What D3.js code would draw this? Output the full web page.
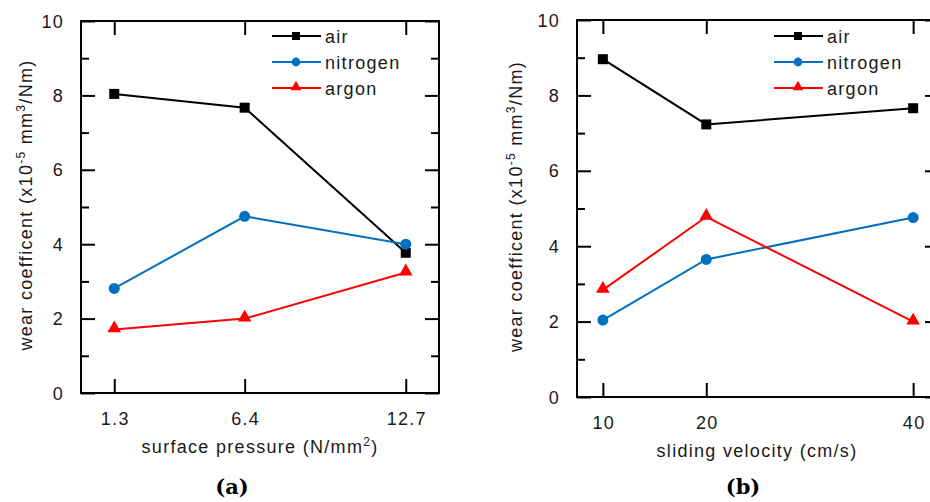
<!DOCTYPE html>
<html>
<head>
<meta charset="utf-8">
<script src="https://cdn.jsdelivr.net/npm/d3@7"></script>
<style>
  body { margin: 0; background: #fff; }
  text { font-family: "Liberation Sans", Arial, sans-serif; fill: #1a1a1a; }
  .wide { letter-spacing: 1.3px; }
  .panelTitle { font-family: "DejaVu Serif", "Liberation Serif", serif; font-weight: bold; fill: #000; }
</style>
</head>
<body>
<div id="graph"></div>
<script>
// data
var seriesNames  = ['air', 'nitrogen', 'argon'];
var seriesColors = ['#000000', '#0070c0', '#ff0000'];
var seriesShapes = ['square', 'circle', 'triangle'];

var pressureX     = [1.3, 6.4, 12.7];
var pressureTicks = ['1.3', '6.4', '12.7'];
var pressureAir      = [8.04, 7.67, 3.77];
var pressureNitrogen = [2.81, 4.75, 4.00];
var pressureArgon    = [1.71, 2.00, 3.24];

var velocityX     = [10, 20, 40];
var velocityTicks = ['10', '20', '40'];
var velocityAir      = [8.96, 7.23, 7.66];
var velocityNitrogen = [2.04, 3.65, 4.76];
var velocityArgon    = [2.84, 4.78, 2.00];

var yMajorTicks = [0, 2, 4, 6, 8, 10];
var yMinorTicks = [1, 3, 5, 7, 9];

var svg = d3.select ('#graph')
            .append ('svg')
            .attr ('width', 930)
            .attr ('height', 502);

//
// draws one panel of the figure
//
function drawPanel (p)
{
    var xScale = d3.scaleLinear ()
                   .domain (p.xDomain)
                   .range ( [ p.left, p.right ] );

    var yScale = d3.scaleLinear ()
                   .domain ( [ 0, 10 ] )
                   .range ( [ p.bottom, p.top ] );

    var g = svg.append ('g');

    // inward tick marks on all four sides
    var axes = [
        { axis: d3.axisBottom (xScale).tickValues (p.xValues).tickSize (-14).tickFormat (''), t: 'translate(0,' + p.bottom + ')' },
        { axis: d3.axisTop (xScale).tickValues (p.xValues).tickSize (-14).tickFormat (''),    t: 'translate(0,' + p.top + ')' },
        { axis: d3.axisLeft (yScale).tickValues (yMajorTicks).tickSize (-14).tickFormat (''), t: 'translate(' + p.left + ',0)' },
        { axis: d3.axisLeft (yScale).tickValues (yMinorTicks).tickSize (-8).tickFormat (''),  t: 'translate(' + p.left + ',0)' },
        { axis: d3.axisRight (yScale).tickValues (yMajorTicks).tickSize (-14).tickFormat (''), t: 'translate(' + p.right + ',0)' },
        { axis: d3.axisRight (yScale).tickValues (yMinorTicks).tickSize (-8).tickFormat (''),  t: 'translate(' + p.right + ',0)' }
    ];

    axes.forEach (function (a)
    {
        var ag = g.append ('g')
                  .attr ('transform', a.t)
                  .call (a.axis.tickSizeOuter (0));
        ag.select ('.domain').remove ();
        ag.selectAll ('line').attr ('stroke', '#000').attr ('stroke-width', 2);
    } );

    // frame
    g.append ('rect')
     .attr ('x', p.left)
     .attr ('y', p.top)
     .attr ('width', p.right - p.left)
     .attr ('height', p.bottom - p.top)
     .attr ('fill', 'none')
     .attr ('stroke', '#000')
     .attr ('stroke-width', 2);

    // tick labels
    g.selectAll ('.ylab')
     .data (yMajorTicks)
     .enter ()
     .append ('text')
     .attr ('class', 'wide')
     .attr ('x', p.left - 17)
     .attr ('y', function (d) { return yScale (d) + 6.5; })
     .attr ('text-anchor', 'end')
     .style ('font-size', '18px')
     .text (function (d) { return d; });

    g.selectAll ('.xlab')
     .data (p.xValues)
     .enter ()
     .append ('text')
     .attr ('class', 'wide')
     .attr ('x', function (d) { return xScale (d) + 1; })
     .attr ('y', p.bottom + 32)
     .attr ('text-anchor', 'middle')
     .style ('font-size', '18px')
     .text (function (d, i) { return p.xTicks[i]; });

    // axis titles
    var xt = g.append ('text')
              .attr ('class', 'wide')
              .attr ('x', p.xTitleX)
              .attr ('y', p.bottom + 60)
              .attr ('text-anchor', 'middle')
              .style ('font-size', '18px');
    xt.append ('tspan').text (p.xTitle);
    if (p.xTitleSup)
    {
        xt.append ('tspan').attr ('dy', -7).style ('font-size', '12px').text (p.xTitleSup);
        xt.append ('tspan').attr ('dy', 7).text (')');
    }

    var yt = g.append ('text')
              .attr ('class', 'wide')
              .attr ('transform', 'translate(' + p.yTitleX + ',' + ((p.top + p.bottom) / 2 - 2) + ') rotate(-90)')
              .attr ('text-anchor', 'middle')
              .style ('font-size', '18px');
    yt.append ('tspan').text ('wear coefficent (x10');
    yt.append ('tspan').attr ('dy', -7).style ('font-size', '12px').text ('-5');
    yt.append ('tspan').attr ('dy', 7).text (' mm');
    yt.append ('tspan').attr ('dy', -7).style ('font-size', '12px').text ('3');
    yt.append ('tspan').attr ('dy', 7).text ('/Nm)');

    // series
    var line = d3.line ()
                 .x (function (d) { return xScale (d.x); })
                 .y (function (d) { return yScale (d.y); });

    p.series.forEach (function (vals, k)
    {
        var pts = vals.map (function (v, i) { return { x: p.xValues[i], y: v }; });

        g.append ('path')
         .datum (pts)
         .attr ('d', line)
         .attr ('fill', 'none')
         .attr ('stroke', seriesColors[k])
         .attr ('stroke-width', 2);

        pts.forEach (function (d)
        {
            drawMarker (g, seriesShapes[k], xScale (d.x), yScale (d.y), seriesColors[k]);
        } );
    } );

    // legend
    seriesNames.forEach (function (name, k)
    {
        var ly = p.legendY + k * 26;
        g.append ('line')
         .attr ('x1', p.legendX)
         .attr ('x2', p.legendX + 49)
         .attr ('y1', ly)
         .attr ('y2', ly)
         .attr ('stroke', seriesColors[k])
         .attr ('stroke-width', 2);
        drawMarker (g, seriesShapes[k], p.legendX + 24, ly, seriesColors[k], 0.8);
        g.append ('text')
         .attr ('class', 'wide')
         .attr ('x', p.legendX + 53)
         .attr ('y', ly + 6.5)
         .style ('font-size', '18px')
         .text (name);
    } );

    // panel letter
    svg.append ('text')
       .attr ('class', 'panelTitle')
       .attr ('x', p.titleX)
       .attr ('y', 494)
       .attr ('text-anchor', 'middle')
       .style ('font-size', '21px')
       .text (p.title);
}

//
// markers
//
function drawMarker (g, shape, cx, cy, color, s)
{
    s = s || 1;
    if (shape === 'square')
    {
        g.append ('rect')
         .attr ('x', cx - 5 * s).attr ('y', cy - 5 * s)
         .attr ('width', 10 * s).attr ('height', 10 * s)
         .attr ('fill', color);
    }
    else if (shape === 'circle')
    {
        g.append ('circle')
         .attr ('cx', cx).attr ('cy', cy)
         .attr ('r', 5.5 * s)
         .attr ('fill', color);
    }
    else
    {
        g.append ('path')
         .attr ('d', d3.symbol ().type (d3.symbolTriangle).size (80 * s * s))
         .attr ('transform', 'translate(' + cx + ',' + (cy - 1) + ')')
         .attr ('fill', color);
    }
}

drawPanel ( {
    left: 81, right: 439, top: 21, bottom: 393,
    xDomain: [0, 14], xValues: pressureX, xTicks: pressureTicks,
    series: [pressureAir, pressureNitrogen, pressureArgon],
    xTitle: 'surface pressure (N/mm', xTitleSup: '2', xTitleX: 260,
    yTitleX: 32, legendX: 272, legendY: 36,
    title: '(a)', titleX: 232
} );

drawPanel ( {
    left: 577, right: 939, top: 20, bottom: 397,
    xDomain: [7.5, 42.5], xValues: velocityX, xTicks: velocityTicks,
    series: [velocityAir, velocityNitrogen, velocityArgon],
    xTitle: 'sliding velocity (cm/s)', xTitleSup: null, xTitleX: 757,
    yTitleX: 522, legendX: 774, legendY: 36,
    title: '(b)', titleX: 743
} );
</script>
</body>
</html>
